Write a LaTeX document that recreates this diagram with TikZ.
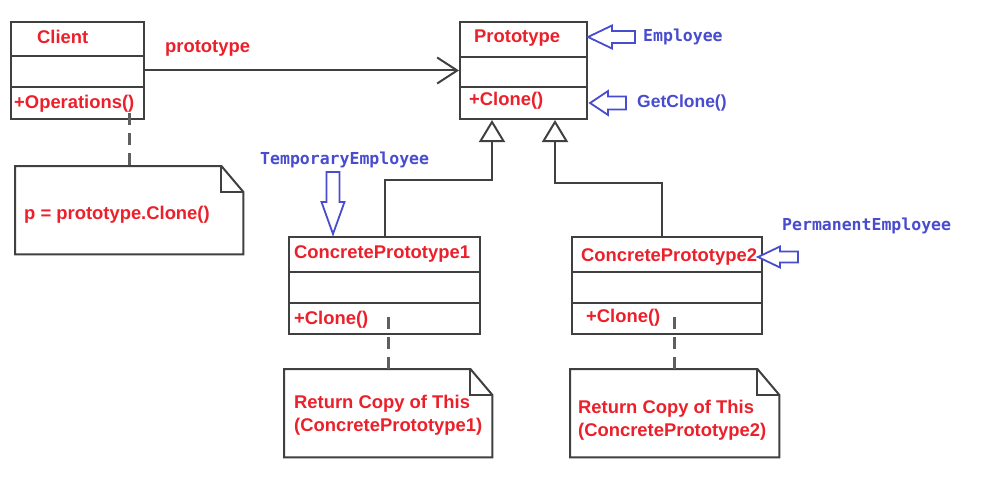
\documentclass[tikz,border=0pt]{standalone}
\usepackage{fontspec}
\setmainfont{Liberation Sans}
\newfontfamily\monofont{DejaVu Sans Mono}
\usetikzlibrary{arrows.meta}
\definecolor{umlred}{RGB}{236,32,42}
\definecolor{umlblue}{RGB}{72,76,206}
\definecolor{umlgray}{RGB}{64,64,64}
\definecolor{dashgray}{RGB}{95,95,95}
\begin{document}
\begin{tikzpicture}[x=1pt,y=-1pt,
  classbox/.style={draw=umlgray, line width=2pt, fill=white, anchor=north west, inner sep=0pt, minimum height=97pt},
  notebox/.style={draw=umlgray, line width=2pt, line join=miter},
  notearea/.style={anchor=north west, inner sep=0pt, minimum height=88pt},
  divider/.style={draw=umlgray, line width=2pt},
  redtxt/.style={text=umlred, font=\fontsize{18.4}{23}\selectfont\bfseries, anchor=west, inner sep=0pt, align=left},
  bluemono/.style={text=umlblue, font=\fontsize{16.5}{19}\selectfont\monofont\bfseries, anchor=west, inner sep=0pt},
  bluesans/.style={text=umlblue, font=\fontsize{17.5}{20}\selectfont\bfseries, anchor=west, inner sep=0pt},
  blockarrow/.style={draw=umlblue, line width=1.8pt, fill=white, line join=miter},
  assoc/.style={draw=umlgray, line width=2pt, -{Straight Barb[length=20pt, width=26pt, line width=2pt]}},
  inherit/.style={draw=umlgray, line width=2pt, -{Triangle[length=22pt, width=26pt, fill=white, line width=2pt]}},
  dashline/.style={draw=dashgray, line width=3pt, dash pattern=on 12pt off 8pt}
]
\fill[white] (0,0) rectangle (997,487);
\useasboundingbox (0,0) rectangle (997,487);

% class boxes
\node[classbox, minimum width=133pt] (client) at (10,21) {};
\node[classbox, minimum width=127pt] (proto) at (459,21) {};
\node[classbox, minimum width=191pt] (cp1) at (288,236) {};
\node[classbox, minimum width=190pt] (cp2) at (571,236) {};

\draw[divider] ([yshift=-35pt]client.north west) -- ([yshift=-35pt]client.north east);
\draw[divider] ([yshift=-66pt]client.north west) -- ([yshift=-66pt]client.north east);
\draw[divider] ([yshift=-36pt]proto.north west) -- ([yshift=-36pt]proto.north east);
\draw[divider] ([yshift=-66pt]proto.north west) -- ([yshift=-66pt]proto.north east);
\foreach \c in {cp1,cp2}{
  \draw[divider] ([yshift=-36pt]\c.north west) -- ([yshift=-36pt]\c.north east);
  \draw[divider] ([yshift=-67pt]\c.north west) -- ([yshift=-67pt]\c.north east);
}

% notes
\node[notearea, minimum width=228pt] (note1) at (15,166) {};
\node[notearea, minimum width=208pt] (note2) at (284,369) {};
\node[notearea, minimum width=209pt] (note3) at (570,369) {};
\foreach \n in {note1,note2,note3}{
  \draw[notebox] (\n.north west) -- ([xshift=-22pt]\n.north east) -- ([yshift=-26pt]\n.north east)
     -- (\n.south east) -- (\n.south west) -- cycle;
  \draw[notebox] ([xshift=-22pt]\n.north east) |- ([yshift=-26pt]\n.north east);
}

% connectors
\draw[assoc] (client.east) -- (proto.west);
\draw[inherit] (cp1.north) |- ([xshift=-31.5pt, yshift=-60pt]proto.south) -- ([xshift=-31.5pt]proto.south);
\draw[inherit] ([xshift=-5pt]cp2.north) |- ([xshift=31.5pt, yshift=-63pt]proto.south) -- ([xshift=31.5pt]proto.south);

\coordinate (d1) at (129,113);
\coordinate (d2) at (388,317);
\coordinate (d3) at (674,317);
\draw[dashline] (d1) -- (d1 |- note1.north);
\draw[dashline] (d2) -- (d2 |- note2.north);
\draw[dashline] (d3) -- (d3 |- note3.north);

% red texts
\node[redtxt] (tclient) at (37,37) {Client};
\node[redtxt] (tops) at (14,104) {+Operations()};
\node[redtxt] (tassoc) at (165,48) {prototype};
\node[redtxt] (tnote1) at (24,215) {p = prototype.Clone()};
\node[redtxt] (tproto) at (474,38) {Prototype};
\node[redtxt] (tpclone) at (469,101) {+Clone()};
\node[redtxt] (tcp1) at (294,254) {ConcretePrototype1};
\node[redtxt] (tcp1clone) at (294,320) {+Clone()};
\node[redtxt] (tcp2) at (581,257) {ConcretePrototype2};
\node[redtxt] (tcp2clone) at (586,318) {+Clone()};
\node[redtxt] (tnote2) at (294,415.5) {Return Copy of This\\(ConcretePrototype1)};
\node[redtxt] (tnote3) at (578,420) {Return Copy of This\\(ConcretePrototype2)};

% blue annotations
\node[bluemono] (temp) at (643,37) {Employee};
\node[bluesans] (tget) at (637,103) {GetClone()};
\node[bluemono] (ttemp) at (260,160) {TemporaryEmployee};
\node[bluemono] (tperm) at (782,226) {PermanentEmployee};

\draw[blockarrow] (588,37) -- (612,25.5) -- (612,31) -- (635,31) -- (635,43) -- (612,43) -- (612,48.5) -- cycle;
\draw[blockarrow] (590,103) -- (608,91) -- (608,96.5) -- (626,96.5) -- (626,109.5) -- (608,109.5) -- (608,115) -- cycle;
\draw[blockarrow] (758,257) -- (780,246.5) -- (780,251.5) -- (798,251.5) -- (798,262.5) -- (780,262.5) -- (780,267.5) -- cycle;
\draw[blockarrow] (333,234) -- (321.5,202) -- (326.5,202) -- (326.5,172) -- (339.5,172) -- (339.5,202) -- (344.5,202) -- cycle;
\end{tikzpicture}
\end{document}
